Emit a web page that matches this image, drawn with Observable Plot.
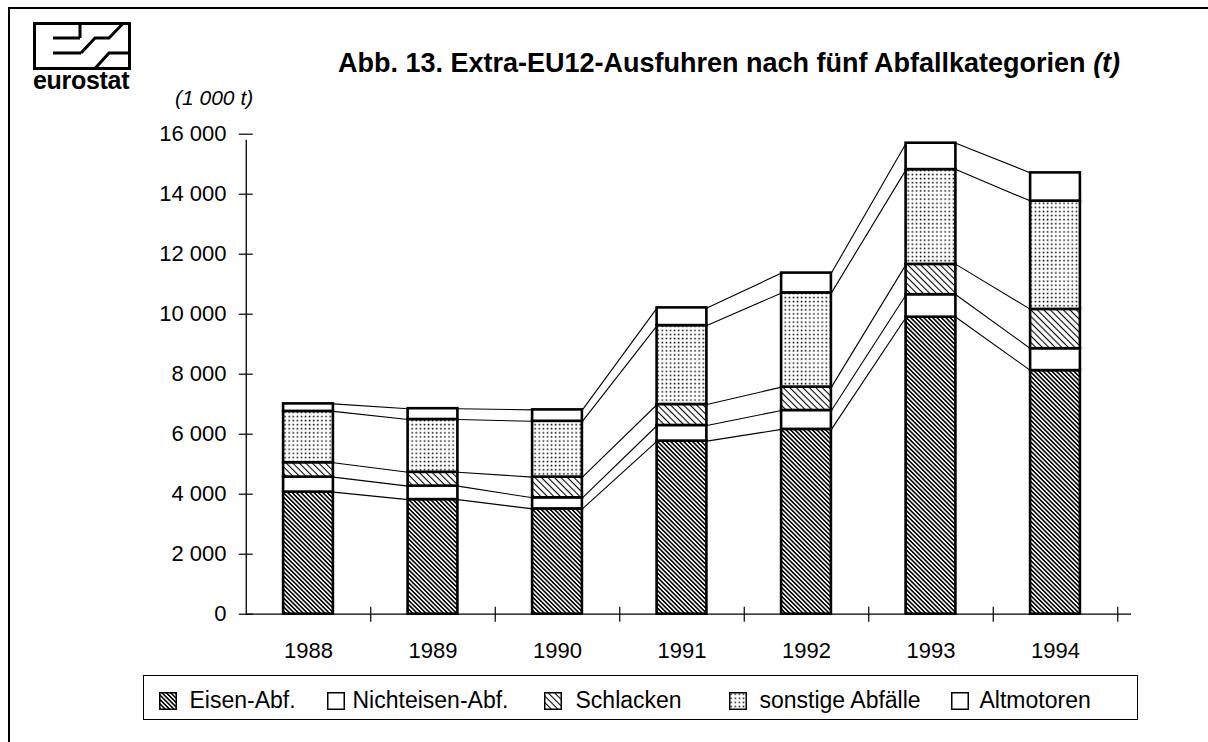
<!DOCTYPE html>
<html><head><meta charset="utf-8">
<script src="https://cdn.jsdelivr.net/npm/d3@7"></script>
<script src="https://cdn.jsdelivr.net/npm/@observablehq/plot@0.6"></script>
<style>
body{margin:0;background:#fff;font-family:"Liberation Sans",Arial,sans-serif;color:#000;}
#page{position:relative;width:1208px;height:742px;overflow:hidden;background:#fff;}
.abs{position:absolute;}
#frameTop{left:8px;top:7px;width:1200px;height:2px;background:#000;}
#frameLeft{left:8px;top:7px;width:2px;height:735px;background:#000;}
#title{left:338px;top:50px;font-weight:bold;font-size:27px;line-height:1;white-space:nowrap;}
#unit{left:175px;top:87px;font-style:italic;font-size:21px;line-height:1;white-space:nowrap;}
#eurostat{left:33px;top:68px;font-weight:bold;font-size:25px;line-height:1;letter-spacing:-0.3px;}
#chart{left:0;top:115px;}
#legend{left:143px;top:675px;width:995px;height:45px;border:1.5px solid #000;box-sizing:border-box;}
.sw{position:absolute;top:16px;width:18px;height:18px;box-sizing:border-box;}
.lt{position:absolute;top:12.5px;font-size:23px;line-height:1;white-space:nowrap;}
</style></head><body>
<div id="page">
<svg width="0" height="0" style="position:absolute">
<defs>
<pattern id="pEisen" patternUnits="userSpaceOnUse" width="3.1" height="3.1" patternTransform="rotate(-45)">
<rect width="3.1" height="3.1" fill="white"/>
<line x1="1.55" y1="-1" x2="1.55" y2="5" stroke="black" stroke-width="1.6"/>
</pattern>
<pattern id="pSchlacken" patternUnits="userSpaceOnUse" width="4.6" height="4.6" patternTransform="rotate(-45)">
<rect width="4.6" height="4.6" fill="white"/>
<line x1="2.3" y1="-1" x2="2.3" y2="6" stroke="black" stroke-width="1.1"/>
</pattern>
<pattern id="pDots" patternUnits="userSpaceOnUse" width="4.1" height="4.1">
<rect width="4.1" height="4.1" fill="white"/>
<rect x="1.4" y="1.4" width="1.5" height="1.5" fill="black"/>
</pattern>
</defs>
</svg>
<svg class="abs" style="left:33px;top:22px" width="98" height="48" viewBox="0 0 98 48">
<rect x="1.5" y="1.5" width="95" height="45" fill="white" stroke="black" stroke-width="3"/>
<path d="M20 16 H47 M20 31 H48" stroke="black" stroke-width="3" fill="none"/>
<path d="M47 1.5 V16 M48 31 L62 16 H76 L90 1.5 M62 46.5 L76 31 H96" stroke="black" stroke-width="3" fill="none"/>
</svg>
<div id="eurostat" class="abs">eurostat</div>
<div id="title" class="abs">Abb. 13. Extra-EU12-Ausfuhren nach fünf Abfallkategorien <i>(t)</i></div>
<div id="unit" class="abs">(1 000 t)</div>
<div id="chart" class="abs"></div>
<div id="legend" class="abs"></div>
<div id="frameTop" class="abs"></div>
<div id="frameLeft" class="abs"></div>
</div>
<script>
// ---- data (1 000 t) ----
const years = [1988, 1989, 1990, 1991, 1992, 1993, 1994];
const seriesNames = ["Eisen-Abf.", "Nichteisen-Abf.", "Schlacken", "sonstige Abfälle", "Altmotoren"];
const eisen      = [4070, 3820, 3510, 5770, 6160, 9900, 8120];
const nichteisen = [500, 450, 370, 520, 630, 750, 730];
const schlacken  = [480, 460, 690, 700, 780, 1010, 1310];
const sonstige   = [1710, 1760, 1860, 2630, 3140, 3160, 3610];
const altmotoren = [250, 360, 380, 590, 660, 880, 940];
const yTicks = [0, 2000, 4000, 6000, 8000, 10000, 12000, 14000, 16000];
const yTickLabels = ["0", "2 000", "4 000", "6 000", "8 000", "10 000", "12 000", "14 000", "16 000"];
const fills = ["url(#pEisen)", "white", "url(#pSchlacken)", "url(#pDots)", "white"];

const seriesValues = [eisen, nichteisen, schlacken, sonstige, altmotoren];
const halfW = 0.2;

// stacked segments
const segs = [];
const tops = seriesNames.map(() => []);
years.forEach((yr, i) => {
  let c = 0;
  seriesValues.forEach((vals, k) => {
    segs.push({year: yr, k, y1: c, y2: c + vals[i]});
    c += vals[i];
    tops[k].push(c);
  });
});
const links = [];
tops.forEach((t, k) => {
  for (let i = 0; i < years.length - 1; i++) {
    links.push({x1: years[i] + halfW, y1: t[i], x2: years[i + 1] - halfW, y2: t[i + 1]});
  }
});
const xMin = years[0] - 0.5, xMax = years[years.length - 1] + 0.5;
const yMax = yTicks[yTicks.length - 1];

const plot = Plot.plot({
  width: 1208,
  height: 555,
  marginLeft: 246,
  marginRight: 77,
  marginTop: 19,
  marginBottom: 56,
  x: {domain: [xMin, xMax], range: [245.75, 1117.25]},
  y: {domain: [0, yMax], range: [498.7, 18.7]},
  style: {fontFamily: "Liberation Sans, Arial, sans-serif", fontSize: "22px", color: "black", background: "white", overflow: "visible"},
  marks: [
    Plot.link(links, {x1: "x1", y1: "y1", x2: "x2", y2: "y2", stroke: "black", strokeWidth: 1.1}),
    ...seriesNames.map((name, k) =>
      Plot.rect(segs.filter(d => d.k === k), {
        x1: d => d.year - halfW, x2: d => d.year + halfW, y1: "y1", y2: "y2",
        fill: fills[k], stroke: "black", strokeWidth: 2.6
      })
    ),
    Plot.ruleY([0], {stroke: "black", strokeWidth: 1.3}),
    Plot.ruleX([xMin], {y1: 0, y2: yMax, stroke: "black", strokeWidth: 1.3, insetBottom: -6}),
    Plot.ruleY(yTicks, {x1: xMin, x2: xMin, insetLeft: -7, insetRight: -7, stroke: "black", strokeWidth: 1.2}),
    Plot.ruleX(years.map(y => y + 0.5), {y1: 0, y2: 0, insetTop: -7, insetBottom: -8, stroke: "black", strokeWidth: 1.2}),
    Plot.axisY({ticks: yTicks, tickSize: 0, tickPadding: 20, label: null, tickFormat: d => yTickLabels[yTicks.indexOf(d)]}),
    Plot.axisX({ticks: years, tickSize: 0, tickPadding: 28, label: null, tickFormat: d => String(d)})
  ]
});
document.getElementById("chart").appendChild(plot);

// legend
const legend = document.getElementById("legend");
const swX = [14.5, 182.5, 399.5, 584.5, 806.5];
const txX = [45.5, 208.5, 431.5, 615.5, 835.5];
seriesNames.forEach((name, k) => {
  const sw = document.createElementNS("http://www.w3.org/2000/svg", "svg");
  sw.setAttribute("class", "sw");
  sw.setAttribute("width", 18); sw.setAttribute("height", 18);
  sw.style.left = swX[k] + "px";
  sw.innerHTML = `<rect x="0.75" y="0.75" width="16.5" height="16.5" fill="${fills[k]}" stroke="black" stroke-width="1.5"/>`;
  legend.appendChild(sw);
  const t = document.createElement("div");
  t.className = "lt";
  t.style.left = txX[k] + "px";
  t.textContent = name;
  legend.appendChild(t);
});
</script>
</body></html>
